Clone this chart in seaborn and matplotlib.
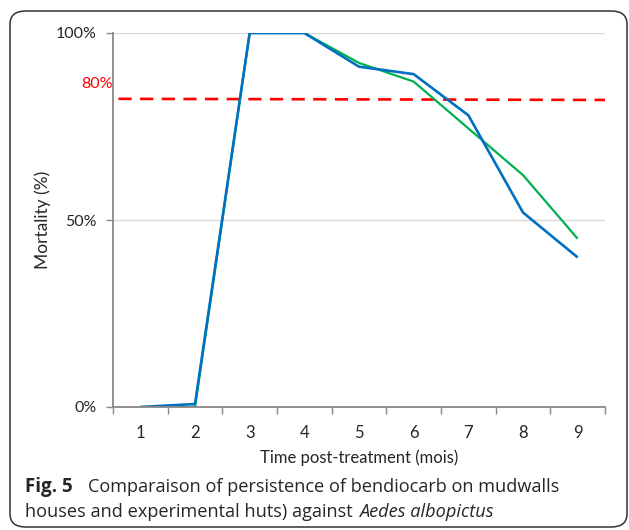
import numpy as np
import pandas as pd
import matplotlib
matplotlib.use("Agg")
import matplotlib.pyplot as plt
import seaborn as sns
from matplotlib.patches import FancyBboxPatch

months = [1, 2, 3, 4, 5, 6, 7, 8, 9]
mudwall_houses = [0, 0, 100, 100, 92, 87, 74.5, 62, 45]
experimental_huts = [0, 0.8, 100, 100, 91, 89, 78, 52, 40]
threshold_x = [0.6, 9.5]
threshold_y = [82.4, 82.1]
y_ticks = [0, 50, 100]
y_tick_labels = ["0%", "50%", "100%"]

df = pd.DataFrame({
    "month": months * 2,
    "mortality": mudwall_houses + experimental_huts,
    "site": ["houses"] * 9 + ["huts"] * 9,
})

sns.set_style("white")
plt.rcParams["font.family"] = ["Lato", "DejaVu Sans"]
cap_font = ["Open Sans", "DejaVu Sans"]

fig = plt.figure(figsize=(6.29, 5.30), dpi=100)
ax = fig.add_axes([113 / 629, 1 - 407 / 530, (605 - 113) / 629, (407 - 33) / 530])

sns.lineplot(data=df, x="month", y="mortality", hue="site",
             palette={"houses": "#00B050", "huts": "#0070C0"},
             hue_order=["houses", "huts"], linewidth=1.7, legend=False, ax=ax)
for line, w in zip(ax.lines, [1.6, 1.9]):
    line.set_linewidth(w)
    line.set_solid_capstyle("butt")

ax.plot(threshold_x, threshold_y, color="#FF0000", linewidth=1.9,
        dashes=(5, 3.2), zorder=1)

ax.set_xlim(0.5, 9.5)
ax.set_ylim(0, 100)
ax.set_xticks(np.arange(0.5, 10, 1))
ax.set_xticklabels([])
ax.set_xticks(months, minor=True)
ax.set_xticklabels([str(m) for m in months], minor=True, fontsize=12)
ax.tick_params(axis="x", which="major", direction="out", length=5,
               color="#888888", width=1, bottom=True)
ax.tick_params(axis="x", which="minor", length=0, pad=13, bottom=True)
ax.set_yticks(y_ticks)
ax.set_yticklabels(y_tick_labels, fontsize=11.5)
ax.tick_params(axis="y", direction="out", length=5, color="#888888",
               width=1, left=True, pad=7)
ax.yaxis.grid(True, color="#D9D9D9", linewidth=1)
ax.set_axisbelow(True)
for side in ["top", "right"]:
    ax.spines[side].set_visible(False)
for side in ["left", "bottom"]:
    ax.spines[side].set_color("#888888")
    ax.spines[side].set_linewidth(1.3)

ax.text(0.0, 86.4, "80%", color="#FF0000", fontsize=11.5, ha="right",
        va="center", transform=ax.get_yaxis_transform())

ax.set_xlabel("Time post-treatment (mois)", fontsize=12)
ax.set_ylabel("Mortality (%)", fontsize=12.5)
ax.xaxis.set_label_coords(0.5, -0.136)
ax.yaxis.set_label_coords(-0.142, 0.5)
ax.xaxis.label.set_va("center")
ax.yaxis.label.set_va("center")

fig.text(25 / 629, 1 - 487 / 530, "Fig. 5", fontsize=13.5, fontweight="bold",
         family=cap_font, va="center")
fig.text(88 / 629, 1 - 487 / 530,
         "Comparaison of persistence of bendiocarb on mudwalls",
         fontsize=13.1, family=cap_font, va="center")
fig.text(25 / 629, 1 - 512 / 530,
         "houses and experimental huts) against",
         fontsize=13.1, family=cap_font, va="center")
fig.text(359 / 629, 1 - 512 / 530, "Aedes albopictus", fontsize=13.1,
         family=cap_font, style="italic", va="center")

frame = FancyBboxPatch((10 / 629, 3 / 530), 617 / 629, 516 / 530,
                       boxstyle="round,pad=0,rounding_size=0.025",
                       transform=fig.transFigure, fill=False,
                       edgecolor="#333333", linewidth=1.1)
fig.patches.append(frame)

fig.savefig("out.png", dpi=100)
